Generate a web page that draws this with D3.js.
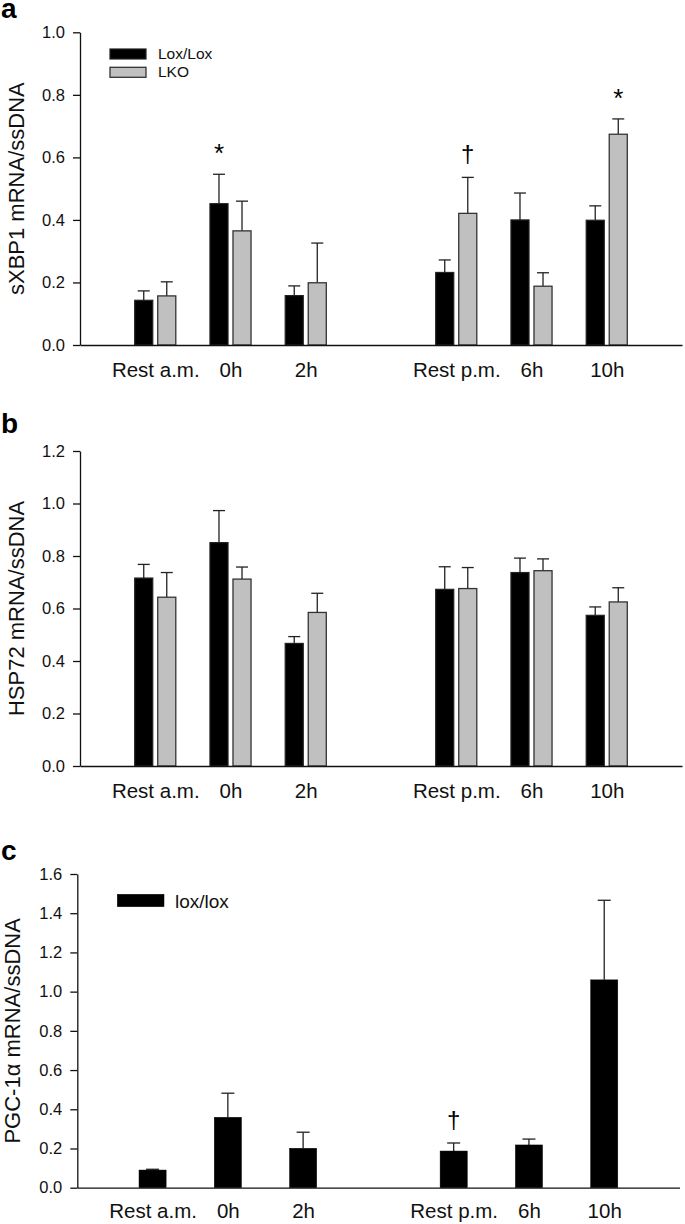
<!DOCTYPE html>
<html>
<head>
<meta charset="utf-8">
<script src="https://cdn.jsdelivr.net/npm/d3@7/dist/d3.min.js"></script>
<style>
  html, body { margin: 0; padding: 0; background: #fff; }
  svg { display: block; font-family: "Liberation Sans", Arial, sans-serif; }
</style>
</head>
<body>
<svg id="chart" width="685" height="1224"></svg>
<script>
// ---------- data ----------
const categories = ["Rest a.m.", "0h", "2h", "Rest p.m.", "6h", "10h"];

const sxbp1LoxLox    = [0.143, 0.452, 0.158, 0.232, 0.400, 0.399];
const sxbp1LoxLoxErr = [0.030, 0.094, 0.031, 0.040, 0.086, 0.046];
const sxbp1LKO       = [0.157, 0.365, 0.199, 0.421, 0.188, 0.674];
const sxbp1LKOErr    = [0.045, 0.095, 0.127, 0.115, 0.043, 0.049];

const hsp72LoxLox    = [0.716, 0.851, 0.467, 0.673, 0.737, 0.574];
const hsp72LoxLoxErr = [0.052, 0.122, 0.026, 0.086, 0.055, 0.032];
const hsp72LKO       = [0.643, 0.712, 0.585, 0.676, 0.744, 0.625];
const hsp72LKOErr    = [0.094, 0.046, 0.073, 0.080, 0.045, 0.054];

const pgcLoxLox      = [0.090, 0.359, 0.201, 0.187, 0.218, 1.060];
const pgcLoxLoxErr   = [0.004, 0.123, 0.082, 0.041, 0.030, 0.406];

const sxbp1Ticks = [0, 0.2, 0.4, 0.6, 0.8, 1.0];
const hsp72Ticks = [0, 0.2, 0.4, 0.6, 0.8, 1.0, 1.2];
const pgcTicks   = [0, 0.2, 0.4, 0.6, 0.8, 1.0, 1.2, 1.4, 1.6];

const sxbp1Marks = [
  { cat: "0h", series: 0, symbol: "*" },
  { cat: "Rest p.m.", series: 1, symbol: "\u2020" },
  { cat: "10h", series: 1, symbol: "*" }
];
const pgcMarks = [
  { cat: "Rest p.m.", series: 0, symbol: "\u2020" }
];

// ---------- drawing ----------
const svg = d3.select("#chart");
const FONT = '"Liberation Sans", Arial, sans-serif';

function panel(cfg) {
  const g = svg.append("g");
  // point scale with spacer slots: edge, 3 cats, gap, 3 cats, edge
  const domain = ["_s0"].concat(categories.slice(0, 3), ["_gap"], categories.slice(3), ["_s1"]);
  const x = d3.scalePoint().domain(domain).range([cfg.x0, cfg.x1]).padding(0);
  const y = d3.scaleLinear().domain([0, cfg.ymax]).range([cfg.yb, cfg.yt]);
  const step = x.step();

  // y axis
  const ya = g.append("g").attr("transform", `translate(${cfg.x0},0)`)
    .call(d3.axisLeft(y).tickValues(cfg.ticks).tickFormat(d3.format(".1f"))
      .tickSize(7).tickSizeOuter(0).tickPadding(8));
  ya.select(".domain").attr("stroke", "#111").attr("stroke-width", 1.3);
  ya.selectAll(".tick line").attr("stroke", "#111").attr("stroke-width", 1.3);
  ya.selectAll(".tick text").attr("font-family", FONT).attr("font-size", cfg.tickFont).attr("fill", "#111");

  // series
  const series = cfg.series;
  const nS = series.length;
  const barW = nS === 2 ? step * 0.24 : step * 0.36;
  const gap = nS === 2 ? step * 0.066 : 0;
  const capW = cfg.capW;
  function barX(i, s) {
    const c = x(categories[i]);
    if (nS === 1) return c - barW / 2;
    return s === 0 ? c - gap / 2 - barW : c + gap / 2;
  }

  series.forEach((s, si) => {
    const data = s.values.map((v, i) => ({ v, e: s.err[i], i }));
    // error bars (upper only)
    const eg = g.append("g");
    eg.selectAll("line.stem").data(data).join("line")
      .attr("x1", d => barX(d.i, si) + barW / 2).attr("x2", d => barX(d.i, si) + barW / 2)
      .attr("y1", d => y(d.v)).attr("y2", d => y(d.v + d.e))
      .attr("stroke", "#222").attr("stroke-width", 1.3);
    eg.selectAll("line.cap").data(data).join("line")
      .attr("x1", d => barX(d.i, si) + barW / 2 - capW / 2).attr("x2", d => barX(d.i, si) + barW / 2 + capW / 2)
      .attr("y1", d => y(d.v + d.e)).attr("y2", d => y(d.v + d.e))
      .attr("stroke", "#222").attr("stroke-width", 1.3);
    g.append("g").selectAll("rect").data(data).join("rect")
      .attr("x", d => barX(d.i, si)).attr("width", barW)
      .attr("y", d => y(d.v)).attr("height", d => y(0) - y(d.v))
      .attr("fill", s.fill).attr("stroke", s.stroke).attr("stroke-width", s.strokeW);
  });

  // x axis
  const xa = g.append("g").attr("transform", `translate(0,${cfg.yb})`)
    .call(d3.axisBottom(x).tickValues(categories).tickSize(0).tickSizeOuter(0).tickPadding(cfg.xPad));
  xa.select(".domain").attr("stroke", "#111").attr("stroke-width", 1.3);
  xa.selectAll(".tick text").attr("font-family", FONT).attr("font-size", cfg.xFont).attr("fill", "#111");

  // y label
  g.append("text")
    .attr("transform", `translate(${cfg.ylabX},${(cfg.yb + cfg.yt) / 2}) rotate(-90)`)
    .attr("text-anchor", "middle").attr("font-size", 22).attr("fill", "#111")
    .text(cfg.ylabel);

  // panel letter
  g.append("text").attr("x", 1).attr("y", cfg.letterY)
    .attr("font-size", 28).attr("font-weight", "bold").attr("fill", "#000")
    .text(cfg.letter);

  // significance marks
  (cfg.marks || []).forEach(m => {
    const i = categories.indexOf(m.cat);
    const s = series[m.series];
    const top = y(s.values[i] + s.err[i]);
    const isStar = m.symbol === "*";
    g.append("text")
      .attr("x", barX(i, m.series) + barW / 2)
      .attr("y", top - (isStar ? 12 : 15))
      .attr("text-anchor", "middle")
      .attr("font-size", isStar ? 26 : 24)
      .attr("fill", "#000")
      .text(m.symbol);
  });

  // legend
  const lg = g.append("g");
  cfg.legend.forEach((l, k) => {
    lg.append("rect").attr("x", l.x).attr("y", l.y).attr("width", l.w).attr("height", l.h)
      .attr("fill", series[k].fill).attr("stroke", series[k].stroke).attr("stroke-width", series[k].strokeW);
    lg.append("text").attr("x", l.tx).attr("y", l.ty).attr("font-size", l.fs).attr("fill", "#111").text(l.label);
  });
}

panel({
  x0: 80, x1: 682, yb: 345, yt: 32.3, ymax: 1.0, ticks: sxbp1Ticks,
  tickFont: 16.5, xFont: 20.5, xPad: 17, capW: 12, ylabX: 24, letter: "a", letterY: 18,
  ylabel: "sXBP1 mRNA/ssDNA",
  series: [
    { values: sxbp1LoxLox, err: sxbp1LoxLoxErr, fill: "#000", stroke: "#222", strokeW: 1.2 },
    { values: sxbp1LKO, err: sxbp1LKOErr, fill: "#c0c0c0", stroke: "#333", strokeW: 1.3 }
  ],
  marks: sxbp1Marks,
  legend: [
    { x: 110, y: 49, w: 36, h: 10, tx: 158, ty: 59, fs: 15.5, label: "Lox/Lox" },
    { x: 110, y: 67.3, w: 36, h: 10, tx: 158, ty: 77.3, fs: 15.5, label: "LKO" }
  ]
});

panel({
  x0: 80, x1: 682, yb: 766, yt: 451, ymax: 1.2, ticks: hsp72Ticks,
  tickFont: 16.5, xFont: 20.5, xPad: 17, capW: 12, ylabX: 24, letter: "b", letterY: 433,
  ylabel: "HSP72 mRNA/ssDNA",
  series: [
    { values: hsp72LoxLox, err: hsp72LoxLoxErr, fill: "#000", stroke: "#222", strokeW: 1.2 },
    { values: hsp72LKO, err: hsp72LKOErr, fill: "#c0c0c0", stroke: "#333", strokeW: 1.3 }
  ],
  marks: [],
  legend: []
});

panel({
  x0: 77.3, x1: 679.5, yb: 1187.7, yt: 874, ymax: 1.6, ticks: pgcTicks,
  tickFont: 16.5, xFont: 20.5, xPad: 16, capW: 13, ylabX: 20, letter: "c", letterY: 860,
  ylabel: "PGC-1\u03b1 mRNA/ssDNA",
  series: [
    { values: pgcLoxLox, err: pgcLoxLoxErr, fill: "#000", stroke: "#000", strokeW: 0.5 }
  ],
  marks: pgcMarks,
  legend: [
    { x: 117.3, y: 894.3, w: 46.7, h: 12.4, tx: 175, ty: 907.7, fs: 19, label: "lox/lox" }
  ]
});
</script>
</body>
</html>
